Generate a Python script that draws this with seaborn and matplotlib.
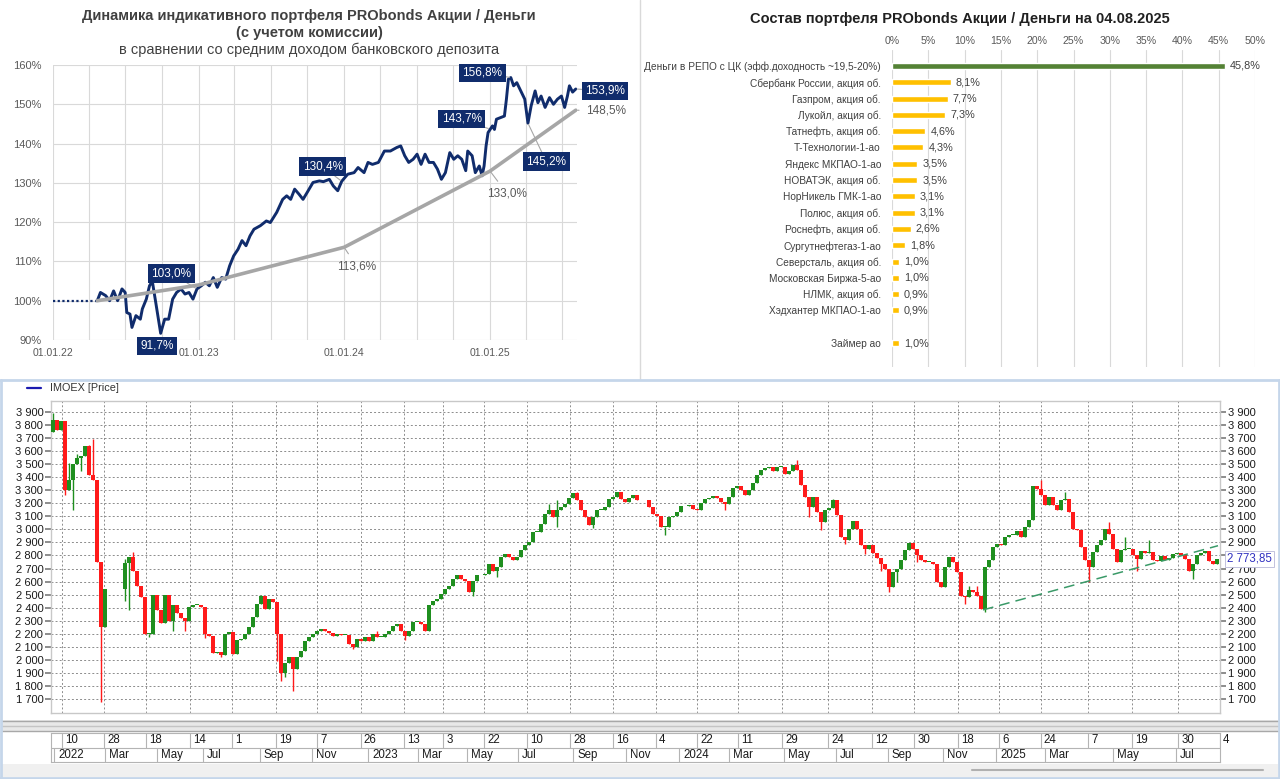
import matplotlib
matplotlib.use("Agg")
import matplotlib.pyplot as plt
import matplotlib.dates as mdates
from matplotlib.lines import Line2D
from matplotlib.patches import Rectangle
from matplotlib.ticker import FuncFormatter
from matplotlib.transforms import blended_transform_factory
import numpy as np
import pandas as pd
import seaborn as sns

# ---------------- portfolio vs deposit (top left) ----------------
pre_dates = ["2022-01-01", "2022-04-22"]
pre_vals = [100.0, 100.0]

port_dates = [
    "2022-04-22", "2022-04-30", "2022-05-13", "2022-05-23", "2022-06-02", "2022-06-12", "2022-06-23", "2022-07-01", "2022-07-05", "2022-07-13",
    "2022-07-18", "2022-07-28", "2022-08-08", "2022-08-13", "2022-08-23", "2022-08-31", "2022-09-07", "2022-09-17", "2022-09-28", "2022-10-08",
    "2022-10-18", "2022-10-28", "2022-11-07", "2022-11-18", "2022-11-28", "2022-12-08", "2022-12-18", "2022-12-28", "2023-01-08", "2023-01-18",
    "2023-01-28", "2023-02-07", "2023-02-17", "2023-02-28", "2023-03-10", "2023-03-20", "2023-03-30", "2023-04-10", "2023-04-20", "2023-04-30",
    "2023-05-10", "2023-05-20", "2023-06-05", "2023-06-20", "2023-06-30", "2023-07-16", "2023-07-31", "2023-08-10", "2023-08-20", "2023-08-30",
    "2023-09-10", "2023-09-20", "2023-09-30", "2023-10-15", "2023-10-31", "2023-11-10", "2023-11-25", "2023-12-05", "2023-12-16", "2023-12-26",
    "2024-01-10", "2024-01-26", "2024-02-05", "2024-02-20", "2024-03-01", "2024-03-12", "2024-03-27", "2024-04-11", "2024-04-26", "2024-05-12",
    "2024-05-22", "2024-06-01", "2024-06-11", "2024-06-22", "2024-07-02", "2024-07-12", "2024-07-22", "2024-08-01", "2024-08-12", "2024-08-22",
    "2024-09-01", "2024-09-11", "2024-09-22", "2024-10-02", "2024-10-12", "2024-10-22", "2024-11-01", "2024-11-06", "2024-11-17", "2024-11-25",
    "2024-12-05", "2024-12-12", "2024-12-17", "2024-12-22", "2024-12-27", "2025-01-07", "2025-01-12", "2025-01-17", "2025-01-27", "2025-02-06",
    "2025-02-11", "2025-02-16", "2025-02-22", "2025-03-01", "2025-03-09", "2025-03-19", "2025-03-29", "2025-04-06", "2025-04-14", "2025-04-24",
    "2025-05-01", "2025-05-09", "2025-05-19", "2025-05-30", "2025-06-09", "2025-06-19", "2025-06-29", "2025-07-07", "2025-07-14", "2025-07-19",
    "2025-07-27", "2025-08-04"]
port_vals = [
    100.0, 102.1, 101.3, 100.0, 102.5, 100.0, 103.0, 102.1, 97.0, 96.6,
    93.2, 96.2, 95.3, 97.9, 100.4, 103.8, 105.0, 98.7, 91.7, 95.3,
    95.3, 100.4, 102.1, 103.0, 101.7, 102.1, 100.4, 103.0, 103.8, 104.7,
    103.8, 105.9, 103.4, 105.9, 105.5, 108.9, 111.4, 113.1, 115.3, 114.0,
    116.5, 118.2, 119.1, 120.3, 119.9, 122.5, 125.8, 126.7, 125.8, 128.4,
    127.1, 125.8, 127.5, 130.1, 130.5, 130.3, 130.9, 129.2, 128.0, 130.4,
    132.2, 132.6, 133.9, 132.6, 135.2, 134.7, 135.2, 138.1, 138.1, 139.0,
    139.4, 136.9, 135.2, 136.0, 137.3, 134.7, 137.3, 135.2, 135.2, 133.5,
    130.9, 132.6, 137.7, 136.0, 136.9, 136.0, 133.1, 138.1, 136.9, 132.6,
    134.3, 131.8, 134.3, 139.4, 142.8, 144.5, 143.6, 146.2, 146.6, 147.0,
    151.3, 156.4, 156.8, 154.7, 155.5, 153.4, 151.3, 145.2, 149.6, 153.4,
    150.4, 152.1, 149.2, 151.7, 150.0, 151.3, 152.1, 149.2, 152.1, 154.7,
    153.1, 153.9]

dep_dates = ["2022-04-22", "2023-01-01", "2024-01-01", "2025-01-01", "2025-08-04"]
dep_vals = [100.0, 104.0, 113.6, 133.0, 148.5]

# labelled points: text, date, value
port_lab_text = ["103,0%", "91,7%", "130,4%", "143,7%", "156,8%", "145,2%", "153,9%"]
port_lab_date = ["2022-12-28", "2022-09-28", "2023-12-26", "2024-12-31", "2025-02-22", "2025-04-06", "2025-08-04"]
port_lab_val = [103.0, 91.7, 130.4, 143.7, 156.8, 145.2, 153.9]
dep_lab_text = ["113,6%", "133,0%", "148,5%"]
dep_lab_date = ["2024-01-01", "2025-01-01", "2025-08-04"]
dep_lab_val = [113.6, 133.0, 148.5]

# ---------------- portfolio composition (top right) ----------------
names = ["Деньги в РЕПО с ЦК (эфф.доходность ~19,5-20%)", "Сбербанк России, акция об.", "Газпром, акция об.",
         "Лукойл, акция об.", "Татнефть, акция об.", "Т-Технологии-1-ао", "Яндекс МКПАО-1-ао", "НОВАТЭК, акция об.",
         "НорНикель ГМК-1-ао", "Полюс, акция об.", "Роснефть, акция об.", "Сургутнефтегаз-1-ао",
         "Северсталь, акция об.", "Московская Биржа-5-ао", "НЛМК, акция об.", "Хэдхантер МКПАО-1-ао", "Займер ао"]
shares = [45.8, 8.1, 7.7, 7.3, 4.6, 4.3, 3.5, 3.5, 3.1, 3.1, 2.6, 1.8, 1.0, 1.0, 0.9, 0.9, 1.0]

# ---------------- IMOEX candles (bottom), one candle per ~4 sessions ----------------
imoex_first_open = 3750
imoex_close = [
    3840, 3760, 3830, 3300, 3380, 3500, 3550, 3560, 3640, 3420,   # 0-9
    3380, 2750, 2250, 2545, None, None, None, None, 2740, 2790,   # 10-19
    2680, 2570, 2480, 2200, 2200, 2500, 2380, 2280, 2495, 2300,   # 20-29
    2420, 2360, 2320, 2300, 2405, 2420, 2420, 2405, 2200, 2180,   # 30-39
    2050, 2060, 2035, 2200, 2210, 2046, 2150, 2160, 2200, 2250,   # 40-49
    2327, 2430, 2490, 2390, 2470, 2440, 2200, 1900, 1980, 2020,   # 50-59
    1930, 2020, 2070, 2148, 2175, 2200, 2225, 2240, 2225, 2205,   # 60-69
    2180, 2200, 2190, 2190, 2123, 2100, 2160, 2148, 2174, 2148,   # 70-79
    2199, 2174, 2174, 2199, 2225, 2263, 2276, 2225, 2186, 2225,   # 80-89
    2290, 2290, 2276, 2225, 2417, 2455, 2468, 2506, 2545, 2570,   # 90-99
    2620, 2647, 2620, 2608, 2520, 2608, 2647, 2647, 2660, 2736,   # 100-109
    2685, 2711, 2788, 2808, 2788, 2762, 2788, 2840, 2877, 2903,   # 110-119
    2979, 2979, 3043, 3120, 3146, 3095, 3146, 3171, 3197, 3243,   # 120-129
    3278, 3222, 3146, 3095, 3030, 3095, 3146, 3146, 3171, 3235,   # 130-139
    3248, 3290, 3235, 3210, 3243, 3261, 3222, 3228, 3222, 3171,   # 140-149
    3120, 3100, 3018, 3018, 3095, 3105, 3133, 3176, 3176, 3190,   # 150-159
    3158, 3150, 3200, 3235, 3243, 3253, 3243, 3210, 3197, 3248,   # 160-169
    3320, 3330, 3300, 3261, 3300, 3355, 3414, 3458, 3473, 3478,   # 170-179
    3447, 3478, 3478, 3422, 3447, 3491, 3452, 3337, 3248, 3171,   # 180-189
    3248, 3133, 3056, 3146, 3166, 3222, 3107, 2941, 2915, 3005,   # 190-199
    3064, 3005, 2877, 2851, 2877, 2818, 2782, 2736, 2698, 2557,   # 200-209
    2672, 2698, 2767, 2844, 2895, 2851, 2800, 2767, 2750, 2750,   # 210-219
    2736, 2596, 2557, 2711, 2788, 2749, 2672, 2493, 2481, 2532,   # 220-229
    2519, 2493, 2390, 2711, 2767, 2864, 2885, 2877, 2941, 2954,   # 230-239
    2954, 2987, 2941, 3018, 3069, 3330, 3312, 3261, 3184, 3248,   # 240-249
    3184, 3146, 3222, 3235, 3133, 3005, 2992, 2864, 2762, 2711,   # 250-259
    2826, 2877, 2915, 3005, 2967, 2851, 2749, 2839, 2851, 2851,   # 260-269
    2800, 2775, 2834, 2818, 2826, 2762, 2757, 2793, 2767, 2782,   # 270-279
    2808, 2818, 2800, 2775, 2685, 2736, 2800, 2818, 2834, 2757,   # 280-289
    2736, 2773.85]                                                 # 290-291
imoex_high = {0: 3890, 4: 3510, 6: 3580, 9: 3650, 10: 3690, 18: 2770, 20: 2830, 52: 2495, 81: 2225,
              124: 3197, 126: 3222, 131: 3290, 186: 3530, 195: 3235, 229: 2570, 231: 2570, 247: 3375,
              253: 3286, 264: 3056, 268: 2941, 274: 2915}
imoex_low = {3: 3260, 5: 3150, 7: 3450, 12: 1681, 18: 2455, 19: 2380, 24: 2175, 30: 2225, 33: 2225,
             38: 2170, 42: 2020, 56: 1995, 57: 1840, 58: 1866, 60: 1765, 75: 2080, 88: 2150, 105: 2493,
             111: 2635, 126: 3018, 135: 3010, 153: 2954, 168: 3146, 189: 3095, 192: 2992, 198: 2890,
             203: 2813, 207: 2685, 209: 2520, 211: 2596, 216: 2750, 228: 2430, 233: 2366, 259: 2596,
             271: 2678, 285: 2620}
last_price = 2773.85
trend_idx = [232.5, 291.25]
trend_val = [2383, 2875]

# time axis of the candle chart (in candle units)
day_pos = [2.2, 12.8, 23.2, 34.25, 44.8, 55.7, 66.1, 76.9, 87.75, 97.6, 107.75, 118.4, 129.25, 139.9,
           150.75, 161.1, 171.3, 182.2, 193.8, 204.7, 215.25, 226.2, 236.6, 246.9, 258.7, 269.8, 281.3, 291.75]
day_lab = ["10", "28", "18", "14", "1", "19", "7", "26", "13", "3", "22", "10", "28", "16",
           "4", "22", "11", "29", "24", "12", "30", "18", "6", "24", "7", "19", "30", "4"]
month_pos = [1.25, 14, 27, 38.5, 52.75, 65.75, 79.75, 92.25, 104.5, 117.25, 131, 144.25, 157.5, 170,
             183.75, 196.75, 209.75, 223.5, 236.75, 249, 266, 281.75]
month_lab = ["2022", "Mar", "May", "Jul", "Sep", "Nov", "2023", "Mar", "May", "Jul", "Sep", "Nov",
             "2024", "Mar", "May", "Jul", "Sep", "Nov", "2025", "Mar", "May", "Jul"]

# ---------------- style ----------------
sns.set_theme(style="white")
plt.rcParams["font.family"] = ["Liberation Sans", "DejaVu Sans"]
NARROW = ["Liberation Sans Narrow", "Liberation Sans", "DejaVu Sans"]
NAVY = "#102c6c"
GRAY_LINE = "#a6a6a6"
GRID = "#d9d9d9"
TXT = "#404040"
RED = "#ff1a1a"
GREEN = "#1f8f1f"

W, H = 1280, 779
fig = plt.figure(figsize=(W / 100, H / 100), dpi=100)
fig.patch.set_facecolor("white")


def px_axes(x0, y0, x1, y1):
    return fig.add_axes([x0 / W, 1 - y1 / H, (x1 - x0) / W, (y1 - y0) / H])


def fig_line(x0, y0, x1, y1, **kw):
    fig.add_artist(Line2D([x0 / W, x1 / W], [1 - y0 / H, 1 - y1 / H], transform=fig.transFigure, **kw))


def fig_rect(x0, y0, x1, y1, **kw):
    fig.add_artist(Rectangle((x0 / W, 1 - y1 / H), (x1 - x0) / W, (y1 - y0) / H,
                             transform=fig.transFigure, **kw))


def fig_text(x, y, s, **kw):
    fig.text(x / W, 1 - y / H, s, **kw)


# ---------------- top left: portfolio line ----------------
ax1 = px_axes(53, 65, 577, 340)
ax1.plot(pd.to_datetime(pre_dates), pre_vals, color=NAVY, lw=1.6, ls=(0, (1, 1.1)))
sns.lineplot(x=pd.to_datetime(port_dates), y=port_vals, ax=ax1, color=NAVY, lw=2.1)
sns.lineplot(x=pd.to_datetime(dep_dates), y=dep_vals, ax=ax1, color=GRAY_LINE, lw=2.6)
ax1.set_xlim(pd.Timestamp("2022-01-01"), pd.Timestamp("2025-08-07"))
ax1.set_ylim(90, 160)
ax1.set_yticks(range(90, 161, 10))
ax1.set_yticklabels([f"{v}%" for v in range(90, 161, 10)], color="#595959", fontsize=8)
year_ticks = pd.to_datetime(["2022-01-01", "2023-01-01", "2024-01-01", "2025-01-01"])
ax1.set_xticks(year_ticks)
ax1.set_xticklabels([d.strftime("%d.%m.%y") for d in year_ticks], color="#595959", fontsize=7.5)
ax1.xaxis.set_minor_locator(mdates.MonthLocator(bymonth=(1, 4, 7, 10)))
ax1.grid(True, which="both", axis="x", color=GRID, lw=0.8)
ax1.grid(True, which="major", axis="y", color=GRID, lw=0.8)
ax1.tick_params(which="both", length=0)
ax1.tick_params(axis="y", pad=8)
ax1.tick_params(axis="x", pad=6)
ax1.set_xlabel("")
ax1.set_ylabel("")
for s in ax1.spines.values():
    s.set_visible(False)

port_text_pos = [("2022-10-25", 106.9), ("2022-09-20", 88.5), ("2023-11-08", 134.1), ("2024-10-22", 146.3),
                 ("2024-12-13", 158.0), ("2025-05-22", 135.4), ("2025-10-16", 153.4)]
for txt, d, v, (td, tv) in zip(port_lab_text, port_lab_date, port_lab_val, port_text_pos):
    arrow = None if txt == "91,7%" else dict(arrowstyle="-", color=GRAY_LINE, lw=0.8, shrinkA=0, shrinkB=1)
    ax1.annotate(txt, xy=(pd.Timestamp(d), v), xytext=(pd.Timestamp(td), tv), textcoords="data",
                 ha="center", va="center", color="white", fontsize=8.5, annotation_clip=False,
                 bbox=dict(boxstyle="square,pad=0.28", fc=NAVY, ec="none"), arrowprops=arrow, zorder=5)

dep_text_pos = [("2024-02-02", 108.7), ("2025-02-13", 127.2), ("2025-10-20", 148.3)]
for txt, d, v, (td, tv) in zip(dep_lab_text, dep_lab_date, dep_lab_val, dep_text_pos):
    ax1.annotate(txt, xy=(pd.Timestamp(d), v), xytext=(pd.Timestamp(td), tv), textcoords="data",
                 ha="center", va="center", color="#595959", fontsize=8.5, annotation_clip=False,
                 arrowprops=dict(arrowstyle="-", color=GRAY_LINE, lw=0.8, shrinkA=3, shrinkB=0), zorder=5)

fig_text(309, 16, "Динамика индикативного портфеля PRObonds Акции / Деньги", ha="center", va="center",
         fontsize=10.5, fontweight="bold", color=TXT)
fig_text(309, 33, "(с учетом комиссии)", ha="center", va="center", fontsize=10.5, fontweight="bold", color=TXT)
fig_text(309, 50, "в сравнении со средним доходом банковского депозита", ha="center", va="center",
         fontsize=10.5, color=TXT)

# ---------------- top right: composition bars ----------------
ax2 = px_axes(892, 50, 1255, 367)
order = names[:16] + [" "] + names[16:]
bar_df = pd.DataFrame({"name": names, "share": shares})
bar_colors = {n: ("#548235" if i == 0 else "#ffc000") for i, n in enumerate(names)}
sns.barplot(data=bar_df, x="share", y="name", order=order, hue="name", palette=bar_colors,
            legend=False, width=0.37, saturation=1, ax=ax2)
ax2.set_xlim(0, 50)
ax2.set_ylim(len(order) - 1 + 1.47, -0.98)
ax2.xaxis.tick_top()
ax2.set_xticks(range(0, 51, 5))
ax2.set_xticklabels([f"{v}%" for v in range(0, 51, 5)], fontsize=7.6, color="#595959", family=NARROW)
ax2.set_yticks(range(len(order)))
ax2.set_yticklabels(order, fontsize=7.3, color=TXT, family=NARROW)
ax2.tick_params(length=0)
ax2.tick_params(axis="y", pad=8)
ax2.tick_params(axis="x", pad=3)
ax2.grid(True, axis="x", color=GRID, lw=0.8)
ax2.set_axisbelow(True)
ax2.set_xlabel("")
ax2.set_ylabel("")
for s in ax2.spines.values():
    s.set_visible(False)
for n, v in zip(names, shares):
    ax2.text(v + 0.7, order.index(n), f"{v:.1f}%".replace(".", ","), va="center", ha="left",
             fontsize=7.8, color=TXT, family=NARROW)
fig_text(960, 19, "Состав портфеля PRObonds Акции / Деньги на 04.08.2025", ha="center", va="center",
         fontsize=10.5, fontweight="bold", color="#202020")

# ---------------- bottom: IMOEX candles ----------------
closes = np.array([np.nan if c is None else c for c in imoex_close], dtype=float)
idx = np.arange(len(closes))
opens = np.empty_like(closes)
prev = imoex_first_open
for i, c in enumerate(closes):
    opens[i] = prev
    if not np.isnan(c):
        prev = c
valid = ~np.isnan(closes)
highs = np.fmax(opens, closes)
lows = np.fmin(opens, closes)
for i, h in imoex_high.items():
    highs[i] = max(highs[i], h)
for i, lo in imoex_low.items():
    lows[i] = min(lows[i], lo)
up = valid & (closes >= opens)
dn = valid & (closes < opens)

ax3 = px_axes(51, 401, 1220, 713)
ax3.vlines(idx[up], lows[up], highs[up], color=GREEN, lw=1.0, zorder=3)
ax3.vlines(idx[dn], lows[dn], highs[dn], color=RED, lw=1.0, zorder=3)
ax3.bar(idx[up], np.maximum(closes - opens, 7)[up], bottom=opens[up], width=0.8, color=GREEN, lw=0, zorder=3)
ax3.bar(idx[dn], np.maximum(opens - closes, 7)[dn], bottom=closes[dn], width=0.8, color=RED, lw=0, zorder=3)
ax3.plot(trend_idx, trend_val, color="#3a9a68", lw=1.1, ls=(0, (7, 4)), zorder=4)
ax3.set_xlim(-0.5, 291.75)
ax3.set_ylim(1593, 3984)
ax3.set_yticks(range(1700, 3901, 100))
ax3.yaxis.set_major_formatter(FuncFormatter(lambda v, p: f"{v:,.0f}".replace(",", " ")))
ax3.set_xticks(day_pos)
ax3.set_xticklabels([])
ax3.tick_params(axis="x", length=0)
ax3.tick_params(axis="y", left=True, right=True, labelleft=True, labelright=True, length=4,
                color="#808080", labelsize=8, labelcolor="#1a1a1a", pad=1.5)
ax3.grid(True, color="#8c8c8c", lw=0.7, ls=(0, (2, 2.2)))
for s in ax3.spines.values():
    s.set_color("#c8c8c8")
    s.set_linewidth(1)
# the last-price marker covers the right-hand 2 800 label, as in the terminal
for t, v in zip(ax3.yaxis.get_major_ticks(), ax3.get_yticks()):
    if v == 2800:
        t.label2.set_visible(False)
blend = blended_transform_factory(ax3.transAxes, ax3.transData)
ax3.text(1.006, last_price, f"{last_price:,.2f}".replace(",", " ").replace(".", ","), transform=blend,
         ha="left", va="center", fontsize=8.3, color="#3030c0", zorder=6,
         bbox=dict(boxstyle="square,pad=0.15", fc="white", ec="#b8b8d8", lw=0.6))

# date band below the candles
axd = px_axes(51, 733, 1220, 762)
axd.set_xlim(ax3.get_xlim())
axd.set_ylim(0, 2)
axd.set_xticks([])
axd.set_yticks([])
for s in axd.spines.values():
    s.set_color("#b4b4b4")
    s.set_linewidth(0.8)
axd.axhline(1, color="#b4b4b4", lw=0.8)
for p, lab in zip(day_pos, day_lab):
    axd.vlines(p, 1, 2, color="#b4b4b4", lw=0.8)
    axd.text(p + 0.8, 1.5, lab, ha="left", va="center", fontsize=8.3, color="#1a1a1a")
for p, lab in zip(month_pos, month_lab):
    axd.vlines(p - 1, 0, 1, color="#b4b4b4", lw=0.8)
    axd.text(p, 0.5, lab, ha="left", va="center", fontsize=8.3, color="#1a1a1a")

# legend of the price panel
fig_line(27, 388, 41, 388, color="#1a1ab0", lw=1.6)
fig_text(50, 388, "IMOEX [Price]", ha="left", va="center", fontsize=7.8, color="#333333")

# frames and terminal decorations
fig_rect(2, 720, 1278, 731, fc="#e8e8e8", ec="none")
fig_line(2, 721, 1278, 721, color="#a8a8a8", lw=1)
fig_line(2, 726, 1278, 726, color="#c4c4c4", lw=1)
fig_line(2, 731, 1278, 731, color="#a8a8a8", lw=1)
fig_rect(2, 764, 1278, 777, fc="#f0f0f0", ec="none")
fig_line(972, 770, 1263, 770, color="#b0b0b0", lw=1.5)
fig_line(640, 0, 640, 379, color="#d9d9d9", lw=1)
fig_line(0, 380, 1280, 380, color="#c5d6ea", lw=2)
fig_line(1, 380, 1, 779, color="#c5d6ea", lw=2)
fig_line(1279, 380, 1279, 779, color="#c5d6ea", lw=2)
fig_line(0, 778, 1280, 778, color="#c5d6ea", lw=2)

fig.savefig("out.png", dpi=100)
